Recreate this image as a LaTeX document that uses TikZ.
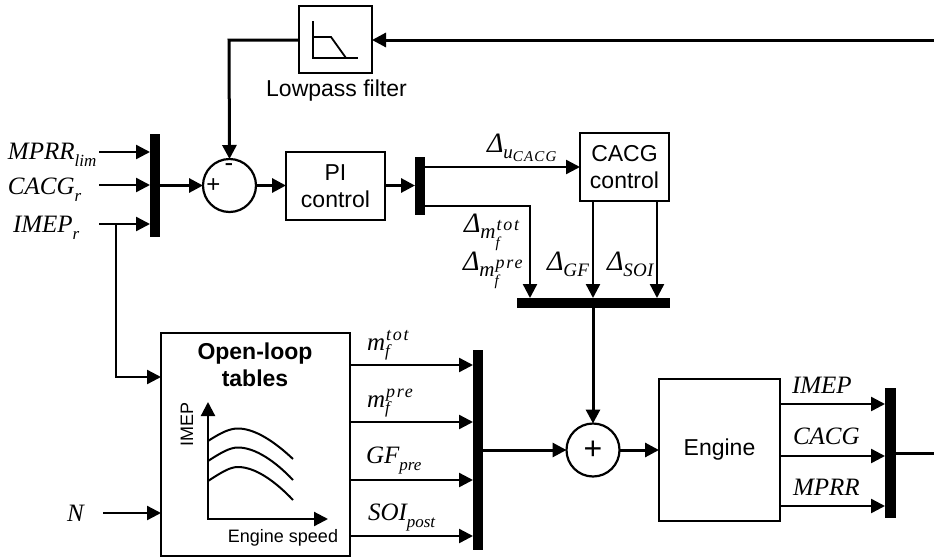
\documentclass[tikz,border=0pt]{standalone}
\usepackage{fontspec}
\setmainfont{Liberation Sans}
\newfontfamily\tim{Liberation Serif}
\usetikzlibrary{arrows.meta}
\newcommand{\fsA}{\fontsize{23}{27}\selectfont}
\newcommand{\fsB}{\fontsize{18}{21}\selectfont}
\newcommand{\mA}{\fontsize{25}{27}\tim\itshape\selectfont}
\newcommand{\mB}{\fontsize{17}{20}\tim\itshape\selectfont}
\newcommand{\mD}{\fontsize{28}{30}\tim\itshape\selectfont}
\newcommand{\mE}{\fontsize{19}{20}\tim\itshape\selectfont}
\newcommand{\mC}{\fontsize{15}{16}\tim\itshape\addfontfeature{LetterSpace=8}\selectfont}
\newcommand{\mF}{\fontsize{18}{20}\tim\itshape\addfontfeature{LetterSpace=10}\selectfont}
% base with subscript
\newcommand{\subl}[2]{{\mA #1}\raisebox{-7pt}{\mB #2}}
% base m with sub f and sup
\newcommand{\mff}[2]{{\mA #1}\raisebox{-6pt}{\rlap{\mB f}}\raisebox{10pt}{\mF\kern1pt #2}}
% delta labels
\newcommand{\dsub}[1]{{\mD\char"0394}\raisebox{-6pt}{\mE\addfontfeature{LetterSpace=1}#1}}
\newcommand{\dsubb}[1]{{\mD\char"0394}\raisebox{-6pt}{\mE u}\raisebox{-9pt}{\mC #1}}
\newcommand{\dmf}[1]{{\mD\char"0394}\raisebox{-6pt}{\fontsize{21}{22}\tim\itshape\selectfont m}\raisebox{-15pt}{\rlap{\mC f}}\raisebox{2pt}{\mF\kern1pt #1}}
\newcommand{\blk}[6]{\node[blockbox] (#1) at ({(#2+#4)/2},{(#3+#5)/2}) [minimum width={(#4-#2)*1pt},minimum height={(#5-#3)*1pt}] {#6};}
\newcommand{\muxb}[5]{\node[muxbar] (#1) at ({(#2+#4)/2},{(#3+#5)/2}) [minimum width={(#4-#2)*1pt},minimum height={(#5-#3)*1pt}] {};}
\tikzset{
  blockbox/.style={draw=black,line width=2.2pt,fill=white,inner sep=0pt,outer sep=0pt,align=center,font=\fsA},
  muxbar/.style={fill=black,draw=none,inner sep=0pt,outer sep=0pt},
  sumc/.style={circle,draw=black,line width=2.2pt,minimum size=53pt,inner sep=0pt,outer sep=0pt,fill=white},
  sig/.style={line width=2.4pt,-{Triangle[length=14pt,width=14pt]}},
  sigt/.style={line width=3pt,-{Triangle[length=14pt,width=14pt]}},
  wiret/.style={line width=3pt},
  lab/.style={anchor=base west,inner sep=0pt,outer sep=0pt},
  sans/.style={inner sep=0pt,outer sep=0pt,font=\fsA},
}
\begin{document}
\begin{tikzpicture}[x=1pt,y=-1pt]
\useasboundingbox (0,0) rectangle (934,557);
% blocks
\blk{lp}{299}{6}{372}{73}{}
\blk{pi}{286}{152}{385}{220}{PI\\control}
\blk{cacg}{580}{133}{669}{201}{CACG\\control}
\blk{ol}{161}{333}{350}{556}{}
\blk{eng}{659}{379}{780}{521}{Engine}
\muxb{m1}{150}{134}{160}{237}
\muxb{m2}{415}{157}{425}{215}
\muxb{m3}{517}{298}{670}{308}
\muxb{m4}{473}{350}{483}{550}
\muxb{m5}{885}{388}{896}{518}
\node[sumc] (s1) at (229.5,185.5) {};
\node[sumc] (s2) at (593,450) {};
\node[sans,font=\fontsize{24}{24}\selectfont] (sp) at (213.5,186) {+};
\node[sans,font=\fontsize{26}{26}\selectfont] (sm) at (229,168) {-};
\node[sans,font=\fontsize{32}{32}\selectfont] (sq) at (593,450) {+};
% free ends
\coordinate (fb) at (934,40);
\coordinate (lpc) at (229,40);
\coordinate (i1) at (99,152);
\coordinate (i2) at (99,185);
\coordinate (i3) at (99,224);
\coordinate (br) at (116,224);
\coordinate (brd) at (116,377);
\coordinate (n) at (103,513);
\coordinate (o1) at (425,167);
\coordinate (o2) at (425,206);
\coordinate (o2c) at (530,206);
\coordinate (cg) at (593,201);
\coordinate (cs) at (657,201);
\coordinate (t1) at (350,365);
\coordinate (t2) at (350,422);
\coordinate (t3) at (350,480);
\coordinate (t4) at (350,536);
\coordinate (e1) at (780,404);
\coordinate (e2) at (780,456);
\coordinate (e3) at (780,506);
\coordinate (out) at (896,453);
\coordinate (outr) at (934,453);
% connectors
\draw[sigt] (fb) -- (fb -| lp.east);
\draw[sigt] (lp.west |- lpc) -- (lpc) -- (s1.north);
\draw[sig] (i1) -- (i1 -| m1.west);
\draw[sig] (i2) -- (i2 -| m1.west);
\draw[sig] (i3) -- (i3 -| m1.west);
\draw[sig] (br) -- (brd) -- (brd -| ol.west);
\draw[sig] (n) -- (n -| ol.west);
\draw[sigt] (m1.east |- s1) -- (s1.west);
\draw[sigt] (s1.east) -- (s1 -| pi.west);
\draw[sigt] (pi.east |- s1) -- (s1 -| m2.west);
\draw[sig] (o1) -- (o1 -| cacg.west);
\draw[sig] (o2) -- (o2c) -- (o2c |- m3.north);
\draw[sig] (cg) -- (cg |- m3.north);
\draw[sig] (cs) -- (cs |- m3.north);
\draw[sigt] (cg |- m3.south) -- (s2.north);
\draw[sig] (t1) -- (t1 -| m4.west);
\draw[sig] (t2) -- (t2 -| m4.west);
\draw[sig] (t3) -- (t3 -| m4.west);
\draw[sig] (t4) -- (t4 -| m4.west);
\draw[sigt] (m4.east |- s2) -- (s2.west);
\draw[sigt] (s2.east) -- (s2 -| eng.west);
\draw[sig] (e1) -- (e1 -| m5.west);
\draw[sig] (e2) -- (e2 -| m5.west);
\draw[sig] (e3) -- (e3 -| m5.west);
\draw[wiret] (out) -- (outr);
% filter icon
\draw[line width=1.8pt] (313,21) -- (313,58) -- (358,58);
\draw[line width=1.8pt] (313,37) -- (331,37) -- (346,58);
% text
\node[sans] (lpt) at (336.5,91) {Lowpass filter};
\node[sans,font=\bfseries\fsA,align=center] (olt) at (255,365) {Open-loop\\tables};
\node[sans,font=\fsB,rotate=90] (imepy) at (187,424) {IMEP};
\node[sans,font=\fsB] (spd) at (283,538) {Engine speed};
% inner chart
\coordinate (ax0) at (208,519);
\coordinate (axy) at (208,402);
\coordinate (axx) at (328,519);
\draw[line width=2.2pt,{Triangle[length=14pt,width=14pt]}-{Triangle[length=14pt,width=14pt]}] (axy) -- (ax0) -- (axx);
\draw[line width=2pt] (208,441) .. controls (222,432) and (230,428.5) .. (238,428.5) .. controls (255,428.5) and (275,442) .. (293,459);
\draw[line width=2pt] (208,461) .. controls (222,452) and (230,447.5) .. (238,447.5) .. controls (255,447.5) and (275,461) .. (293,480);
\draw[line width=2pt] (208,481) .. controls (222,472) and (230,467) .. (238,467) .. controls (255,467) and (275,481) .. (293,500);
% math labels
\node[lab] (l1) at (8,159) {\subl{MPRR}{lim}};
\node[lab] (l2) at (8,194) {\subl{CACG}{r}};
\node[lab] (l3) at (13,232) {\subl{IMEP}{r}};
\node[lab] (l4) at (67,521) {{\mA N}};
\node[lab] (d1) at (487,152) {\dsubb{CACG}};
\node[lab] (d2) at (464,232) {\dmf{tot}};
\node[lab] (d3) at (463,270) {\dmf{pre}};
\node[lab] (d4) at (547,270) {\dsub{GF}};
\node[lab] (d5) at (607,270) {\dsub{SOI}};
\node[lab] (q1) at (367,350) {\mff{m}{tot}};
\node[lab] (q2) at (367,407) {\mff{m}{pre}};
\node[lab] (q3) at (366,463) {\subl{GF}{pre}};
\node[lab] (q4) at (368,520) {\subl{SOI}{post}};
\node[lab] (r1) at (792,393) {{\mA IMEP}};
\node[lab] (r2) at (793,444) {{\mA CACG}};
\node[lab] (r3) at (793,495) {{\mA MPRR}};
\end{tikzpicture}
\end{document}
